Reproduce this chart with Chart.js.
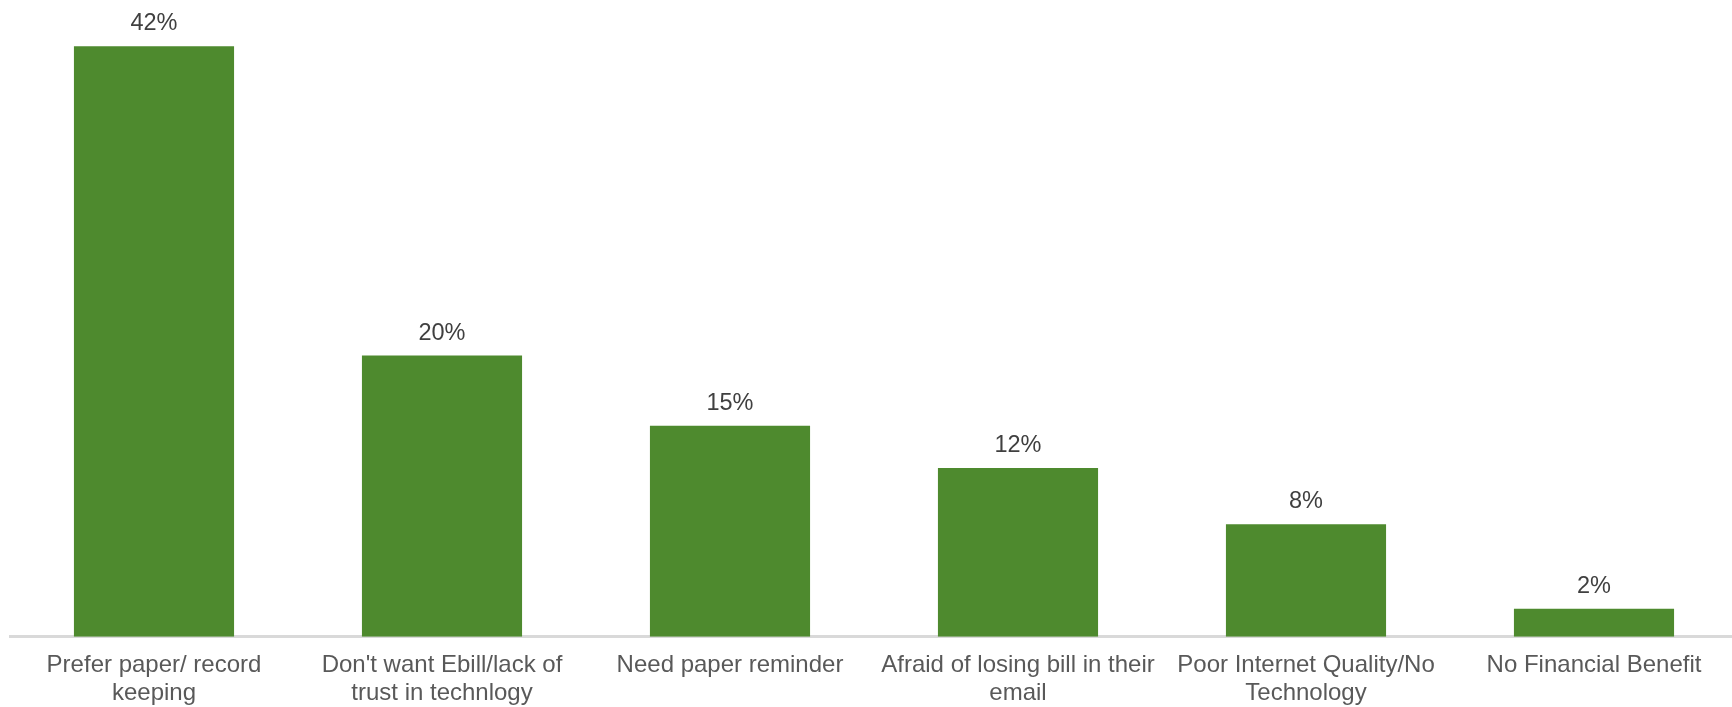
<!DOCTYPE html>
<html>
<head>
<meta charset="utf-8">
<script src="https://cdn.jsdelivr.net/npm/chart.js@4/dist/chart.umd.min.js"></script>
<style>
  html, body { margin: 0; padding: 0; background: #fff; overflow: hidden; }
  #wrap { position: relative; width: 1746px; height: 724px; }
</style>
</head>
<body>
<div id="wrap"><canvas id="chart"></canvas></div>
<script>
const categories = [
  ['Prefer paper/ record', 'keeping'],
  ["Don't want Ebill/lack of", 'trust in technlogy'],
  ['Need paper reminder'],
  ['Afraid of losing bill in their', 'email'],
  ['Poor Internet Quality/No', 'Technology'],
  ['No Financial Benefit']
];
const shares = [42, 20, 15, 12, 8, 2];

const barColor = '#4e8a2e';

// draws the "42%" style labels above each bar
const valueLabels = {
  id: 'valueLabels',
  afterDatasetsDraw(chart) {
    const ctx = chart.ctx;
    const meta = chart.getDatasetMeta(0);
    ctx.save();
    ctx.font = '23.5px "Liberation Sans", Arial, sans-serif';
    ctx.fillStyle = '#404040';
    ctx.textAlign = 'center';
    ctx.textBaseline = 'alphabetic';
    meta.data.forEach((bar, i) => {
      ctx.fillText(shares[i] + '%', bar.x, bar.y - 16);
    });
    ctx.restore();
  }
};

const ctx = document.getElementById('chart').getContext('2d');

const chart = new Chart(ctx, {
  type: 'bar',
  data: {
    labels: categories,
    datasets: [{
      data: shares,
      backgroundColor: barColor,
      borderWidth: 0,
      barPercentage: 0.556,
      categoryPercentage: 1
    }]
  },
  options: {
    responsive: true,
    maintainAspectRatio: false,
    animation: false,
    layout: {
      padding: { left: 10, right: 8, top: 4, bottom: 2 }
    },
    scales: {
      x: {
        grid: { display: false, drawTicks: false },
        border: { display: true, color: '#d9d9d9', width: 3 },
        ticks: {
          color: '#595959',
          font: { family: '"Liberation Sans", Arial, sans-serif', size: 24, lineHeight: 1.15 },
          padding: 15,
          maxRotation: 0,
          autoSkip: false
        }
      },
      y: {
        display: false,
        beginAtZero: true,
        min: 0,
        max: 45
      }
    },
    plugins: {
      legend: { display: false },
      tooltip: { enabled: false }
    }
  },
  plugins: [valueLabels]
});
</script>
</body>
</html>
